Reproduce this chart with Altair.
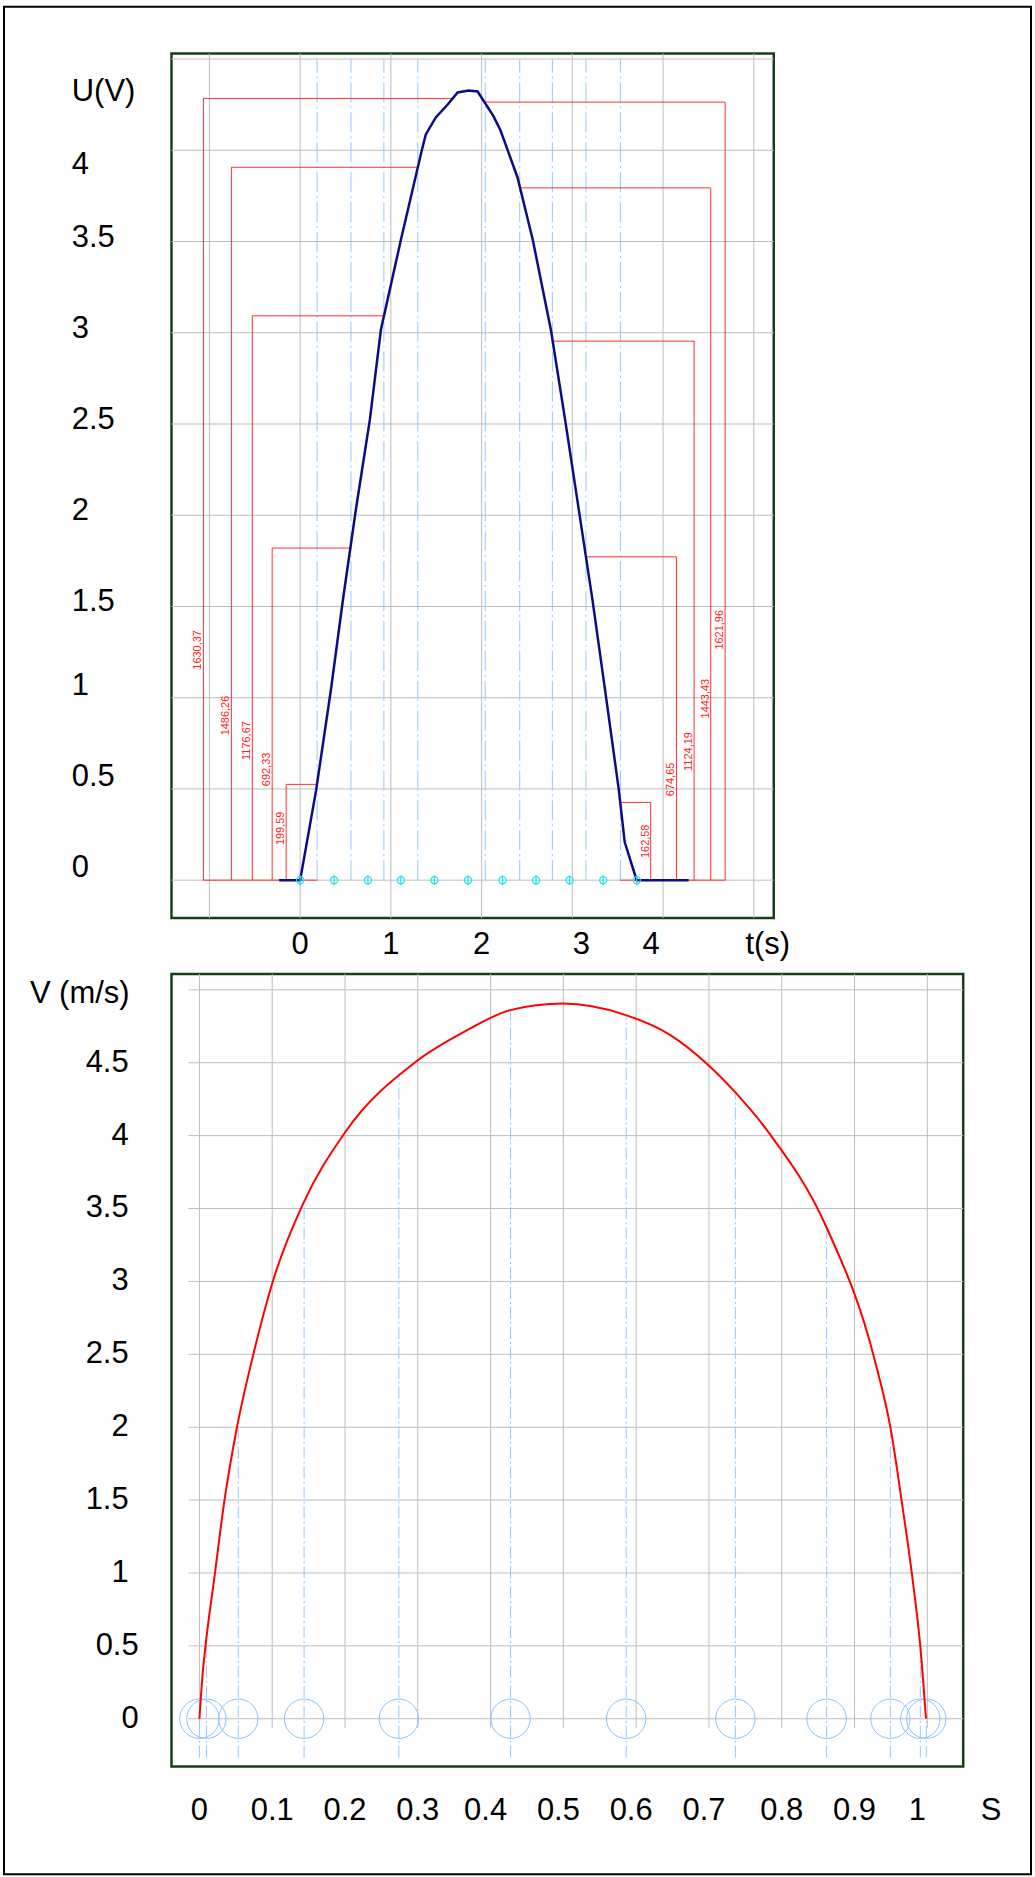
import altair as alt
import pandas as pd

FONT = "Liberation Sans"

# ---------------- upper panel : U(V) versus t(s) ----------------
t_curve = [-0.231, 0.0, 0.176, 0.341, 0.473, 0.615, 0.769, 0.890, 1.110, 1.341, 1.385,
           1.495, 1.626, 1.736, 1.857, 1.956, 2.132, 2.209, 2.396, 2.565, 2.764, 2.921,
           3.071, 3.221, 3.359, 3.513, 3.577, 3.709, 4.282]
u_curve = [0.0, 0.0, 0.492, 1.049, 1.541, 2.033, 2.525, 3.016, 3.508, 4.0, 4.087,
           4.18, 4.251, 4.317, 4.328, 4.322, 4.186, 4.108, 3.851, 3.507, 3.015, 2.521,
           2.031, 1.539, 1.048, 0.492, 0.209, 0.0, 0.0]

t_markers = [0.0, 0.374, 0.747, 1.11, 1.48, 1.85, 2.23, 2.60, 2.97, 3.34, 3.71]
t_mid = [0.187, 0.56, 0.923, 1.297, 2.04, 2.42, 2.78, 3.15, 3.53]
t_grid = [-1, 0, 1, 2, 3, 4, 5]
u_grid = [0, 0.5, 1, 1.5, 2, 2.5, 3, 3.5, 4, 4.5]
t_ticks = [0, 1, 2, 3, 4]
u_ticks = [0, 0.5, 1, 1.5, 2, 2.5, 3, 3.5, 4]

dim_left_text = ["1630,37", "1486,26", "1176,67", "692,33", "199,59"]
dim_left_t = [-1.066, -0.758, -0.527, -0.308, -0.154]
dim_left_u = [4.284, 3.907, 3.093, 1.820, 0.525]
dim_left_from = [1.68, 1.297, 0.923, 0.56, 0.187]
dim_left_label_u = [1.262, 0.902, 0.765, 0.607, 0.284]

dim_right_text = ["162,58", "674,65", "1124,19", "1443,43", "1621,96"]
dim_right_t = [3.863, 4.147, 4.342, 4.525, 4.684]
dim_right_u = [0.426, 1.772, 2.954, 3.794, 4.264]
dim_right_from = [3.53, 3.15, 2.78, 2.42, 2.044]
dim_right_label_u = [0.213, 0.552, 0.705, 0.995, 1.372]

# ---------------- lower panel : V (m/s) versus S ----------------
s_curve = [0.0, 0.0041, 0.0082, 0.021, 0.0338, 0.0507, 0.0726, 0.1027, 0.1415, 0.199,
           0.2973, 0.368, 0.427, 0.499, 0.586, 0.647, 0.699, 0.736, 0.783, 0.8616,
           0.928, 0.9497, 0.9652, 0.979, 0.9904, 0.9982]
v_curve = [0.0, 0.29, 0.492, 0.985, 1.477, 1.977, 2.469, 3.030, 3.523, 4.015,
           4.507, 4.724, 4.861, 4.906, 4.827, 4.690, 4.485, 4.298, 4.015, 3.37,
           2.456, 1.988, 1.479, 0.987, 0.495, 0.0]

s_marks = [0.0, 0.0096, 0.0534, 0.1438, 0.2740, 0.4274, 0.5863, 0.7363, 0.8616, 0.9493, 0.9904, 0.9986]
v_marks = [0.0, 0.59, 2.06, 3.52, 4.43, 4.86, 4.82, 4.29, 3.37, 1.98, 0.49, 0.0]
s_grid = [0, 0.1, 0.2, 0.3, 0.4, 0.5, 0.6, 0.7, 0.8, 0.9, 1.0]
v_grid = [0, 0.5, 1, 1.5, 2, 2.5, 3, 3.5, 4, 4.5, 5]
s_ticks = [0, 0.1, 0.2, 0.3, 0.4, 0.5, 0.6, 0.7, 0.8, 0.9, 1.0]
v_ticks = [0, 0.5, 1, 1.5, 2, 2.5, 3, 3.5, 4, 4.5]

# ---------------- styles ----------------
GRID = "#bdbdbd"
BLUE = "#92c8ff"
RED = "#ff1a1a"
NAVY = "#0c0c84"
FRAME = "#173f17"
FS = 31

TW, TH = 604, 867
BW, BH = 794, 795

TX = alt.Scale(domain=[-1.4176, 5.2198], nice=False, zero=False)
TY = alt.Scale(domain=[-0.2077, 4.530], nice=False, zero=False)
SX = alt.Scale(domain=[-0.03836, 1.04932], nice=False, zero=False)
SY = alt.Scale(domain=[-0.3283, 5.1094], nice=False, zero=False)


def lab_df(values):
    return pd.DataFrame({"value": values, "label": [f"{v:g}" for v in values]})


def in_list(vals):
    return "indexof([" + ",".join(f"{v:g}" for v in vals) + "], datum.value) >= 0"


def txt(**kw):
    base = dict(font=FONT, fontSize=FS, color="black", baseline="middle")
    base.update(kw)
    return base


# ----- upper panel data frames -----
curve_df = pd.DataFrame({"t": t_curve, "u": u_curve})
marker_df = pd.DataFrame({"t": t_markers, "u": [0.0] * len(t_markers)})
mid_df = pd.DataFrame({"t": t_mid, "lo": [0.0] * len(t_mid), "hi": [4.5] * len(t_mid)})
tgrid_df = pd.DataFrame({"t": t_grid})
ugrid_df = pd.DataFrame({"u": u_grid})

rows = []
for tf, tv, uv in list(zip(dim_left_from, dim_left_t, dim_left_u)) + list(zip(dim_right_from, dim_right_t, dim_right_u)):
    rows.append({"x": tf, "x2": tv, "y": uv, "y2": uv})
    rows.append({"x": tv, "x2": tv, "y": uv, "y2": 0.0})
rows.append({"x": dim_left_t[0], "x2": t_mid[0], "y": 0.0, "y2": 0.0})
rows.append({"x": dim_right_from[0], "x2": dim_right_t[-1], "y": 0.0, "y2": 0.0})
dim_df = pd.DataFrame(rows)
dim_text_df = pd.DataFrame({"label": dim_left_text + dim_right_text,
                            "t": dim_left_t + dim_right_t,
                            "u": dim_left_label_u + dim_right_label_u})

border = alt.Chart(pd.DataFrame({"k": [0]})).mark_rect(
    fill="white", fillOpacity=0, stroke="black", strokeWidth=2, clip=False
).encode(x=alt.value(-168), x2=alt.value(862), y=alt.value(-47), y2=alt.value(1826))

top_vgrid = alt.Chart(tgrid_df).mark_rule(color=GRID, strokeWidth=1).encode(
    x=alt.X("t:Q", scale=TX, axis=None), y=alt.value(0), y2=alt.value(TH))
top_hgrid = alt.Chart(ugrid_df).mark_rule(color=GRID, strokeWidth=1).encode(
    y=alt.Y("u:Q", scale=TY, axis=None), x=alt.value(0), x2=alt.value(TW))
top_mid = alt.Chart(mid_df).mark_rule(color=BLUE, strokeWidth=1, strokeDash=[20, 4, 2, 4]).encode(
    x=alt.X("t:Q", scale=TX, axis=None),
    y=alt.Y("lo:Q", scale=TY, axis=None), y2="hi:Q")
top_dims = alt.Chart(dim_df).mark_rule(color=RED, strokeWidth=1, opacity=0.9).encode(
    x=alt.X("x:Q", scale=TX, axis=None), x2="x2:Q",
    y=alt.Y("y:Q", scale=TY, axis=None), y2="y2:Q")
top_dim_text = alt.Chart(dim_text_df).mark_text(
    color=RED, font=FONT, fontSize=11, angle=270, align="center", baseline="bottom"
).encode(x=alt.X("t:Q", scale=TX, axis=None), y=alt.Y("u:Q", scale=TY, axis=None), text="label:N")
top_curve = alt.Chart(curve_df).mark_line(color=NAVY, strokeWidth=2.5, interpolate="linear").encode(
    x=alt.X("t:Q", scale=TX, axis=None),
    y=alt.Y("u:Q", scale=TY, axis=None),
    order="t:Q")
marker_path = "M-1,0A1,1 0 1,1 1,0A1,1 0 1,1 -1,0M0,-1.4L0,1.4"
top_markers = alt.Chart(marker_df).mark_point(
    shape=marker_path, filled=False, color="#19e6f0", size=52, strokeWidth=1.2, opacity=1
).encode(x=alt.X("t:Q", scale=TX, axis=None), y=alt.Y("u:Q", scale=TY, axis=None))

# tick labels of the upper panel (placed through the scales)
tx_lab = alt.Chart(lab_df(t_ticks))
top_xlabels = [
    tx_lab.transform_filter(in_list([0, 1, 2])).mark_text(**txt(align="center")),
    tx_lab.transform_filter(in_list([3])).mark_text(**txt(align="center", dx=9)),
    tx_lab.transform_filter(in_list([4])).mark_text(**txt(align="center", dx=-12)),
]
top_xlabels = [c.encode(x=alt.X("value:Q", scale=TX, axis=None), y=alt.value(TH + 27), text="label:N")
               for c in top_xlabels]
ty_lab = alt.Chart(lab_df(u_ticks))
top_ylabels = [
    ty_lab.transform_filter(in_list([0, 0.5, 1])).mark_text(**txt(align="left", dy=-12)),
    ty_lab.transform_filter(in_list([1.5, 2, 2.5, 3, 3.5])).mark_text(**txt(align="left", dy=-4)),
    ty_lab.transform_filter(in_list([4])).mark_text(**txt(align="left", dy=15)),
]
top_ylabels = [c.encode(y=alt.Y("value:Q", scale=TY, axis=None), x=alt.value(-100), text="label:N")
               for c in top_ylabels]
top_xtitle = alt.Chart(pd.DataFrame({"label": ["t(s)"]})).mark_text(**txt(align="center")).encode(
    x=alt.value(598), y=alt.value(TH + 27), text="label:N")
top_ytitle = alt.Chart(pd.DataFrame({"label": ["U(V)"]})).mark_text(**txt(align="left")).encode(
    x=alt.value(-100), y=alt.value(39), text="label:N")

top = alt.layer(top_vgrid, top_hgrid, border, top_mid, top_dims, top_dim_text,
                top_curve, top_markers, *top_xlabels, *top_ylabels,
                top_xtitle, top_ytitle).properties(width=TW, height=TH)

# ----- lower panel -----
vcurve_df = pd.DataFrame({"s": s_curve, "v": v_curve})
marks_df = pd.DataFrame({"s": s_marks, "v": v_marks, "lo": [-0.267] * len(s_marks),
                         "zero": [0.0] * len(s_marks)})
sgrid_df = pd.DataFrame({"s": s_grid, "lo": [-0.062] * len(s_grid)})
vgrid_df = pd.DataFrame({"v": v_grid, "left": [-0.015] * len(v_grid)})

bot_vgrid = alt.Chart(sgrid_df).mark_rule(color=GRID, strokeWidth=1).encode(
    x=alt.X("s:Q", scale=SX, axis=None),
    y=alt.Y("lo:Q", scale=SY, axis=None), y2=alt.value(0))
bot_hgrid = alt.Chart(vgrid_df).mark_rule(color=GRID, strokeWidth=1).encode(
    y=alt.Y("v:Q", scale=SY, axis=None),
    x=alt.X("left:Q", scale=SX, axis=None), x2=alt.value(BW))
bot_lines = alt.Chart(marks_df).mark_rule(color=BLUE, strokeWidth=1, strokeDash=[12, 3, 2, 3]).encode(
    x=alt.X("s:Q", scale=SX, axis=None), y=alt.Y("lo:Q", scale=SY, axis=None), y2="v:Q")
bot_circles = alt.Chart(marks_df).mark_point(
    shape="circle", filled=False, color="#86c2ff", size=1560, strokeWidth=1, opacity=1
).encode(x=alt.X("s:Q", scale=SX, axis=None), y=alt.Y("zero:Q", scale=SY, axis=None))
bot_curve = alt.Chart(vcurve_df).mark_line(color="#ff0000", strokeWidth=2, interpolate="monotone").encode(
    x=alt.X("s:Q", scale=SX, axis=None),
    y=alt.Y("v:Q", scale=SY, axis=None),
    order="s:Q")

sx_lab = alt.Chart(lab_df(s_ticks))
bot_xlabels = [
    sx_lab.transform_filter(in_list([0, 0.1, 0.2, 0.3, 0.8, 0.9])).mark_text(**txt(align="center")),
    sx_lab.transform_filter(in_list([0.4, 0.5, 0.6, 0.7])).mark_text(**txt(align="center", dx=-5)),
    sx_lab.transform_filter(in_list([1])).mark_text(**txt(align="center", dx=-10)),
]
bot_xlabels = [c.encode(x=alt.X("value:Q", scale=SX, axis=None), y=alt.value(BH + 45), text="label:N")
               for c in bot_xlabels]
sy_lab = alt.Chart(lab_df(v_ticks))
bot_ylabels = [
    sy_lab.transform_filter(in_list([0, 0.5])).mark_text(**txt(align="right")).encode(x=alt.value(-33)),
    sy_lab.transform_filter("datum.value >= 1").mark_text(**txt(align="right")).encode(x=alt.value(-43)),
]
bot_ylabels = [c.encode(y=alt.Y("value:Q", scale=SY, axis=None), text="label:N") for c in bot_ylabels]
bot_xtitle = alt.Chart(pd.DataFrame({"label": ["S"]})).mark_text(**txt(align="center")).encode(
    x=alt.value(822), y=alt.value(BH + 45), text="label:N")
bot_ytitle = alt.Chart(pd.DataFrame({"label": ["V (m/s)"]})).mark_text(**txt(align="left")).encode(
    x=alt.value(-142), y=alt.value(20), text="label:N")

bottom = alt.layer(bot_vgrid, bot_hgrid, bot_lines, bot_circles, bot_curve,
                   *bot_xlabels, *bot_ylabels, bot_xtitle, bot_ytitle).properties(
    width=BW, height=BH)

chart = alt.vconcat(top, bottom, spacing=56, bounds="flush").properties(
    padding=1, background="white"
).configure(font=FONT).configure_view(
    stroke=FRAME, strokeWidth=2.5, fill="white"
)

chart.save("out.html", embed_options={"renderer": "svg", "actions": False})
